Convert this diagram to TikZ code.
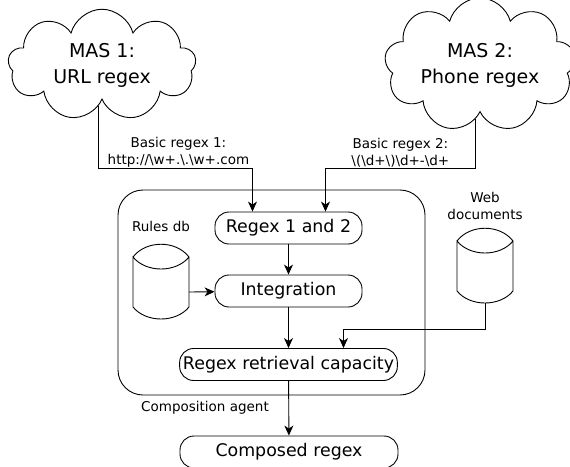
\documentclass[tikz,border=0pt]{standalone}
\usepackage{fontspec}
\setmainfont{DejaVu Sans}
\usetikzlibrary{arrows.meta,shapes.symbols}

\tikzset{
    database/.pic={
        \draw (-28,0) .. controls (-15,-17) and (15,-17) .. (28,0)
            .. controls (15,16) and (-15,16) .. (-28,0)
            -- (-28,50) .. controls (-15,66) and (15,66) .. (28,50) -- (28,0);
        \coordinate (-east) at (28,35);
        \coordinate (-south) at (0,62);
    }
}

\begin{document}
\begin{tikzpicture}[x=1pt, y=-1pt, line width=0.9pt,
        arrow/.style={-{Stealth[length=10pt, width=9pt, inset=3pt]}},
        mas/.style={draw, cloud, cloud puffs=9, aspect=1.9, minimum width=188pt, minimum height=98pt,
            align=center, font=\fontsize{19}{26}\selectfont},
        stage/.style={draw, rounded corners=14pt, minimum height=32pt, font=\fontsize{17.4}{20}\selectfont},
        tag/.style={font=\fontsize{13.5}{17}\selectfont, align=center}]
    \useasboundingbox (0,0) rectangle (570,466);

    \node[mas] (mas1) at (102,65) {MAS 1:\\URL regex};
    \node[mas] (mas2) at (480,65) {MAS 2:\\Phone regex};

    \node[draw, rounded corners=25pt, minimum width=307pt, minimum height=205pt] (agent) at (271.5,292.5) {};
    \node[stage, minimum width=147pt] (regex) at (288.5,228) {Regex 1 and 2};
    \node[stage, minimum width=147pt] (integration) at (288.5,291) {Integration};
    \node[stage, minimum width=217pt] (retrieval) at (288.5,364.5) {Regex retrieval capacity};
    \node[stage, minimum width=218pt] (composed) at (289,452) {Composed regex};

    \node[tag] (rulestag) at (161,226) {Rules db};
    \pic (rules) at (161,257) {database};
    \node[tag] (webtag) at (485,206) {Web\\documents};
    \pic (web) at (485,241) {database};
    \node[tag] (agenttag) at (205,408) {Composition agent};

    \draw[arrow] (mas1.265) -- (mas1.265 |- 0,168) -| node[tag, above, pos=0.25, yshift=-3pt, xshift=3pt]
        {Basic regex 1:\\http://\textbackslash w+.\textbackslash .\textbackslash w+.com} ([xshift=-36pt]regex.north);
    \draw[arrow] (mas2.265) -- (mas2.265 |- 0,168) -| node[tag, above, pos=0.25, yshift=-3pt]
        {Basic regex 2:\\\textbackslash(\textbackslash d+\textbackslash)\textbackslash d+-\textbackslash d+} ([xshift=37pt]regex.north);
    \draw[arrow] (regex) -- (integration);
    \draw[arrow] (rules-east) -- (integration);
    \draw[arrow] (integration) -- (retrieval);
    \draw[arrow] (web-south) -- ++(0,26) -| ([xshift=55pt]retrieval.north);
    \draw[arrow] (retrieval) -- (composed);
\end{tikzpicture}
\end{document}
